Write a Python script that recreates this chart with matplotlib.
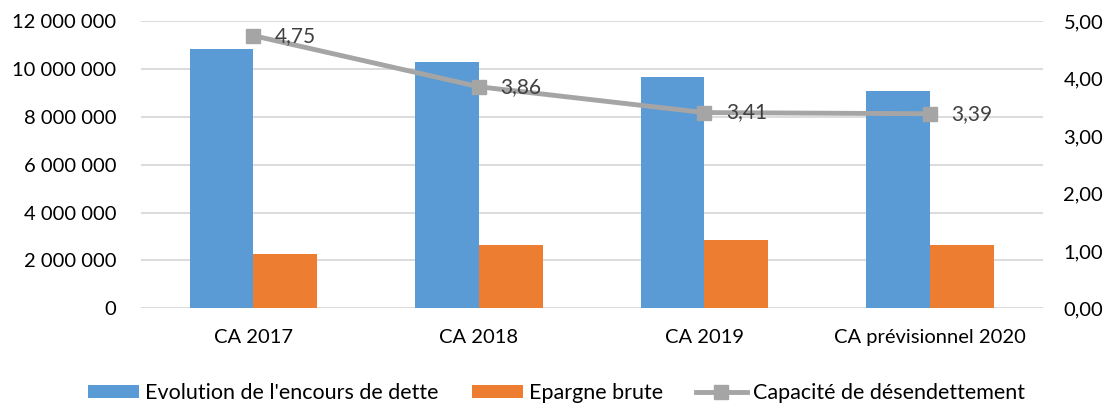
import matplotlib
matplotlib.use('Agg')
from matplotlib import pyplot as plt
from matplotlib.ticker import FuncFormatter
from numpy import arange

plt.rcParams['font.family'] = ['Lato', 'DejaVu Sans']

categories = ['CA 2017', 'CA 2018', 'CA 2019', 'CA prévisionnel 2020']
encours = [10840000, 10280000, 9670000, 9070000]
epargne = [2290000, 2660000, 2840000, 2660000]
capacite = [4.75, 3.86, 3.41, 3.39]
capacite_labels = ['4,75', '3,86', '3,41', '3,39']

blue = '#5B9BD5'
orange = '#ED7D31'
grey = '#A5A5A5'

fig = plt.figure(figsize=(11.13, 4.03), dpi=100)
ax = fig.add_axes([0.1264, 0.2349, 0.9368 - 0.1264, 0.9471 - 0.2349])
ax2 = ax.twinx()

x = arange(len(categories))
w = 0.283
b1 = ax.bar(x - w / 2, encours, w, color=blue, label="Evolution de l'encours de dette", zorder=2)
b2 = ax.bar(x + w / 2, epargne, w, color=orange, label='Epargne brute', zorder=2)
ln, = ax2.plot(x, capacite, color=grey, lw=3.5, marker='s', ms=10, label='Capacité de désendettement', zorder=3)
for k in range(len(x)):
    ax2.text(x[k] + 0.095, capacite[k], capacite_labels[k], ha='left', va='center',
             fontsize=15, color='#404040')

ax.set_xlim(-0.5, len(categories) - 0.5)
ax.set_ylim(0, 12000000)
ax.set_yticks(arange(0, 12000001, 2000000))
ax.yaxis.set_major_formatter(FuncFormatter(lambda v, p: '{:,.0f}'.format(v).replace(',', ' ')))
ax2.set_ylim(0, 5)
ax2.set_yticks(arange(0, 5.01, 1))
ax2.yaxis.set_major_formatter(FuncFormatter(lambda v, p: ('%.2f' % v).replace('.', ',')))

ax.set_xticks(x)
ax.set_xticklabels(categories)
ax.grid(axis='y', color='#D9D9D9', lw=1.3, zorder=0)
ax.set_axisbelow(True)
for a in (ax, ax2):
    for s in a.spines.values():
        s.set_visible(False)
    a.tick_params(length=0, labelsize=14.5, colors='black')
ax.tick_params(axis='y', pad=17.5)
ax.tick_params(axis='x', pad=15, labelsize=14.5)
ax2.tick_params(axis='y', pad=15)

fig.legend([b1, b2, ln], [b1.get_label(), b2.get_label(), ln.get_label()],
           loc='center', bbox_to_anchor=(0.5, 0.025), ncol=3, frameon=False,
           fontsize=15.5, handlelength=2.37, handleheight=0.6, handletextpad=0.28,
           columnspacing=1.53)

plt.savefig('out.png', dpi=100)
